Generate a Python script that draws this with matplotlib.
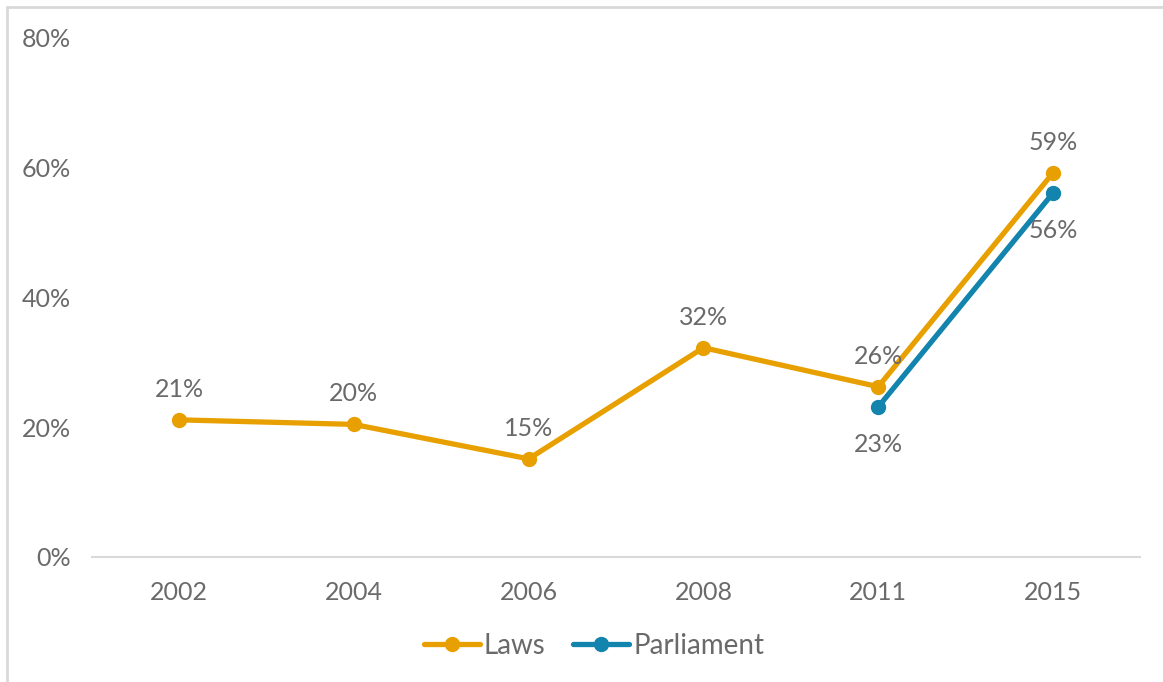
import matplotlib
matplotlib.use("Agg")
import matplotlib.pyplot as plt
from matplotlib.patches import Rectangle
from matplotlib.ticker import FuncFormatter

years = ["2002", "2004", "2006", "2008", "2011", "2015"]
laws = [21.1, 20.4, 15.1, 32.2, 26.2, 59.1]
parliament_years = ["2011", "2015"]
parliament = [23.1, 56.0]

ORANGE = "#E8A000"
BLUE = "#1384AD"
TEXT = "#6A6A6A"

plt.rcParams["font.family"] = ["Lato", "DejaVu Sans"]

fig = plt.figure(figsize=(11.63, 6.82), dpi=100)
ax = fig.add_axes([0.0788, 0.1833, 0.9018, 0.7624])

# outer chart frame
fig.patches.append(Rectangle((7 / 1163, -0.1), 1.2, 1 - 7 / 682 + 0.1,
                             transform=fig.transFigure, fill=False,
                             edgecolor="#D9D9D9", linewidth=2, zorder=0))

x_laws = [years.index(y) for y in years]
x_parl = [years.index(y) for y in parliament_years]

ax.plot(x_laws, laws, color=ORANGE, lw=3.8, marker="o", ms=10,
        solid_capstyle="round", label="Laws", zorder=3)
ax.plot(x_parl, parliament, color=BLUE, lw=3.8, marker="o", ms=10,
        solid_capstyle="round", label="Parliament", zorder=3)

for xi, v in zip(x_laws, laws):
    ax.annotate(f"{v:.0f}%", (xi, v), xytext=(0, 22), textcoords="offset points",
                ha="center", va="center", fontsize=18, color=TEXT)
for xi, v in zip(x_parl, parliament):
    ax.annotate(f"{v:.0f}%", (xi, v), xytext=(0, -27), textcoords="offset points",
                ha="center", va="center", fontsize=18, color=TEXT)

ax.set_xlim(-0.5, len(years) - 0.5)
ax.set_ylim(0, 80)
ax.set_yticks([0, 20, 40, 60, 80])
ax.yaxis.set_major_formatter(FuncFormatter(lambda v, _: f"{v:.0f}%"))
ax.set_xticks(range(len(years)))
ax.set_xticklabels(years)
ax.tick_params(axis="both", length=0, labelsize=18, labelcolor=TEXT)
ax.tick_params(axis="y", pad=15)
ax.tick_params(axis="x", pad=17)

for side in ["top", "right", "left"]:
    ax.spines[side].set_visible(False)
ax.spines["bottom"].set_color("#D9D9D9")
ax.spines["bottom"].set_linewidth(1.5)

leg = ax.legend(loc="center", bbox_to_anchor=(0.479, -0.171), ncol=2, frameon=False,
                fontsize=20, handlelength=2.0, handletextpad=0.15, columnspacing=1.0,
                labelcolor=TEXT)

fig.savefig("out.png", dpi=100)
